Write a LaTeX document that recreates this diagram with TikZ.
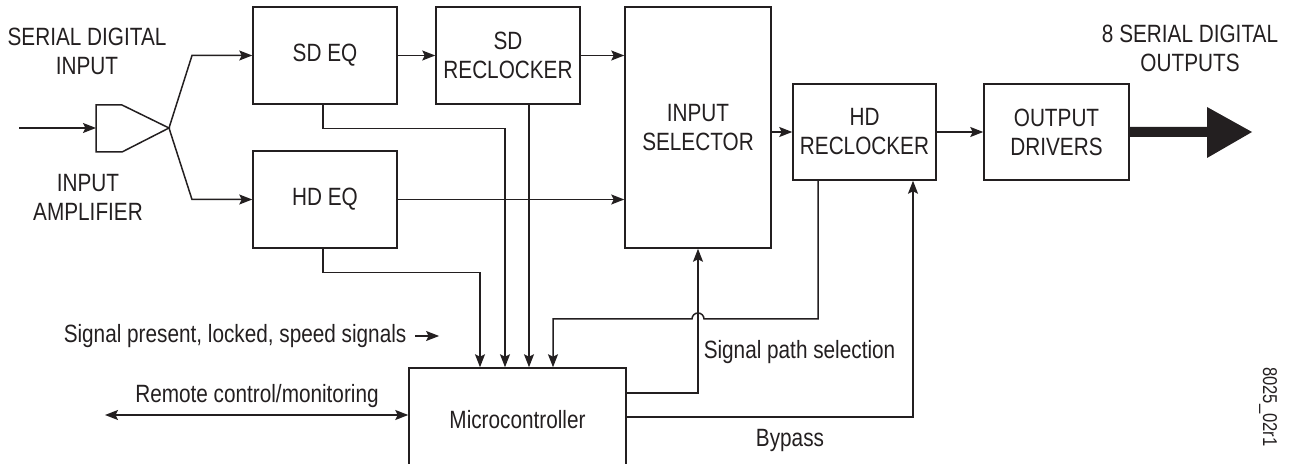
\documentclass[tikz,border=0pt]{standalone}
\usepackage{fontspec}
\setmainfont{Liberation Sans}[FakeStretch=0.83]
\usetikzlibrary{arrows.meta}
\definecolor{ink}{HTML}{231F20}
\begin{document}
\begin{tikzpicture}[x=1pt,y=1pt, line width=1.5pt, draw=ink, text=ink,
  >={Stealth[length=13pt,width=10pt,inset=2.5pt]},
  blk/.style={draw=ink, align=center, inner sep=0pt, font=\fontsize{25}{29}\selectfont},
  lbl/.style={align=center, inner sep=0pt, font=\fontsize{25}{29}\selectfont}]
\useasboundingbox (0,0) rectangle (1289,463);
\clip (0,0) rectangle (1289,463);
% blocks
\node[blk, minimum width=144, minimum height=97] (sdeq) at (325,407.5) {SD EQ};
\node[blk, minimum width=144, minimum height=97] (hdeq) at (325,263.5) {HD EQ};
\node[blk, minimum width=144, minimum height=97] (sdr) at (508,407.5) {SD\\RECLOCKER};
\node[blk, minimum width=146, minimum height=241] (insel) at (698,335.5) {INPUT\\SELECTOR};
\node[blk, minimum width=143, minimum height=96] (hdr) at (864.5,331) {HD\\RECLOCKER};
\node[blk, minimum width=145, minimum height=96] (od) at (1056.5,331) {OUTPUT\\DRIVERS};
\node[blk, minimum width=217, minimum height=104] (mc) at (517.5,43) {Microcontroller};
% amplifier
\coordinate (ampin) at (96,335);
\coordinate (ampout) at (169,335);
\draw (96,358) -- (122,358) -- (ampout) -- (122,311) -- (96,311) -- cycle;
\coordinate (src) at (19,335);
\draw[->] (src) -- (ampin);
\draw[->] (ampout) -- (192,407.5) -- (sdeq.west);
\draw[->] (ampout) -- (192,263.5) -- (hdeq.west);
% x positions
\coordinate (xa) at (480,0);
\coordinate (xb) at (505,0);
\coordinate (xc) at (529,0);
\coordinate (xd) at (553,0);
\coordinate (xf) at (818,0);
\coordinate (xg) at (913,0);
\coordinate (h1) at (818,144);
% signal flow
\draw[->] (sdeq) -- (sdr);
\draw[->] (sdr.east) -- (sdr.east -| insel.west);
\draw[->] (hdeq.east) -- (hdeq.east -| insel.west);
\draw[->] (insel.east |- hdr.west) -- (hdr.west);
\draw[->] (hdr) -- (od);
\fill[ink] (od.east) ++(0,5) -- (1207,336) -- (1207,356) -- (1252,331) -- (1207,305) -- (1207,326) -- ([yshift=-5]od.east) -- cycle;
% status lines
\draw[->] ([xshift=-2]sdeq.south) -- ++(0,-24) -| (xb |- mc.north);
\draw[->] ([xshift=-2]hdeq.south) -- ++(0,-24) -| (xa |- mc.north);
\draw[->] (xc |- sdr.south) -- (xc |- mc.north);
\draw[->] (xf |- hdr.south) -- (h1) -- (704,144) arc[start angle=0,end angle=180,radius=6] -- (553,144) -- (xd |- mc.north);
\draw[->] ([yshift=27]mc.east) -| (insel.south);
\draw[->] ([yshift=3]mc.east) -| (xg |- hdr.south);
\coordinate (rc) at (105,48);
\draw[<->] (rc) -- ([yshift=5]mc.west);
% labels
\node[lbl] (sdi) at (87,412) {SERIAL DIGITAL\\INPUT};
\node[lbl] (ia) at (88,266) {INPUT\\AMPLIFIER};
\node[lbl] (sdo) at (1190,415) {8 SERIAL DIGITAL\\OUTPUTS};
\node[lbl, anchor=west] (sps) at (63,127) {Signal present, locked, speed signals};
\draw[->, line width=1.3pt] ([xshift=8]sps.east) -- ++(24,0);
\node[lbl] (rcl) at (257,67) {Remote control/monitoring};
\node[lbl, anchor=west] (spl) at (703,111) {Signal path selection};
\node[lbl] (byp) at (790,23) {Bypass};
\node[lbl, rotate=-90, font=\fontsize{20}{24}\selectfont] (id) at (1268,56) {8025\_02r1};
\end{tikzpicture}
\end{document}
